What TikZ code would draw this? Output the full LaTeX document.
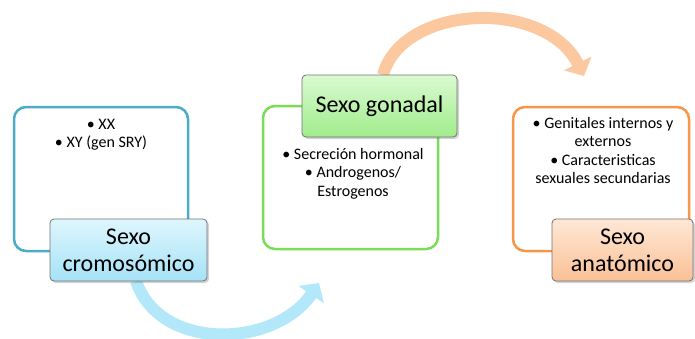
\documentclass[tikz,border=0pt]{standalone}
\usepackage{fontspec}
\setmainfont{Carlito}
\usetikzlibrary{shadows,arrows.meta}
\definecolor{bline}{RGB}{75,172,198}
\definecolor{gline}{RGB}{120,222,85}
\definecolor{oline}{RGB}{247,150,70}
\definecolor{btop}{RGB}{222,246,254}
\definecolor{bbot}{RGB}{165,226,246}
\definecolor{gtop}{RGB}{218,250,208}
\definecolor{gbot}{RGB}{160,236,140}
\definecolor{otop}{RGB}{254,232,214}
\definecolor{obot}{RGB}{250,192,150}
\definecolor{barrow}{RGB}{178,232,250}
\definecolor{oarrow}{RGB}{251,200,160}
\tikzset{
  outbox/.style={draw, line width=2.5pt, rounded corners=12pt, fill=white},
  labelbox/.style={draw=black!55, line width=0.8pt, rounded corners=4pt, align=center,
    font=\fontsize{24}{27}\selectfont, inner sep=0pt,
    drop shadow={shadow xshift=2pt, shadow yshift=-2pt, opacity=0.35}},
  bullets/.style={align=center, font=\fontsize{16}{18.5}\selectfont, inner sep=0pt, anchor=north},
  bigarrow/.style={line width=12pt, -{Triangle[length=14pt,width=30pt]}}
}
\begin{document}
\begin{tikzpicture}[x=1pt,y=-1pt]
\useasboundingbox (0,0) rectangle (695,338);
% outline boxes
\node[outbox, draw=bline, minimum width=174pt, minimum height=144pt] (b1) at (101,179) {};
\node[outbox, draw=gline, minimum width=175pt, minimum height=143pt] (b2) at (350.5,177.5) {};
\node[outbox, draw=oline, minimum width=176pt, minimum height=144pt] (b3) at (601,179) {};
% bullet texts
\node[bullets] (t1) at (101,119) {• XX\\• XY (gen SRY)};
\node[bullets] (t2) at (353,148) {• Secreción hormonal\\• Androgenos/\\Estrogenos};
\node[bullets] (t3) at (603,117) {• Genitales internos y\\externos\\• Caracteristicas\\sexuales secundarias};
% arrow end points
\coordinate (e1) at (319,283);
\coordinate (e2) at (584,76);
\coordinate (s1) at (136,281);
\coordinate (s2) at (383,75);
% arrows (behind labels)
\draw[bigarrow, draw=barrow] (s1) .. controls (160,352) and (275,348) .. (e1);
\draw[bigarrow, draw=oarrow] (s2) .. controls (402,4) and (545,-2) .. (e2);
% labels
\node[labelbox, top color=btop, bottom color=bbot, minimum width=157pt, minimum height=62pt] (l1) at (128.5,250) {Sexo\\cromosómico};
\node[labelbox, top color=gtop, bottom color=gbot, minimum width=155pt, minimum height=62pt] (l2) at (379.5,106) {Sexo gonadal};
\node[labelbox, top color=otop, bottom color=obot, minimum width=141pt, minimum height=62pt] (l3) at (622.5,250) {Sexo\\anatómico};
\end{tikzpicture}
\end{document}
